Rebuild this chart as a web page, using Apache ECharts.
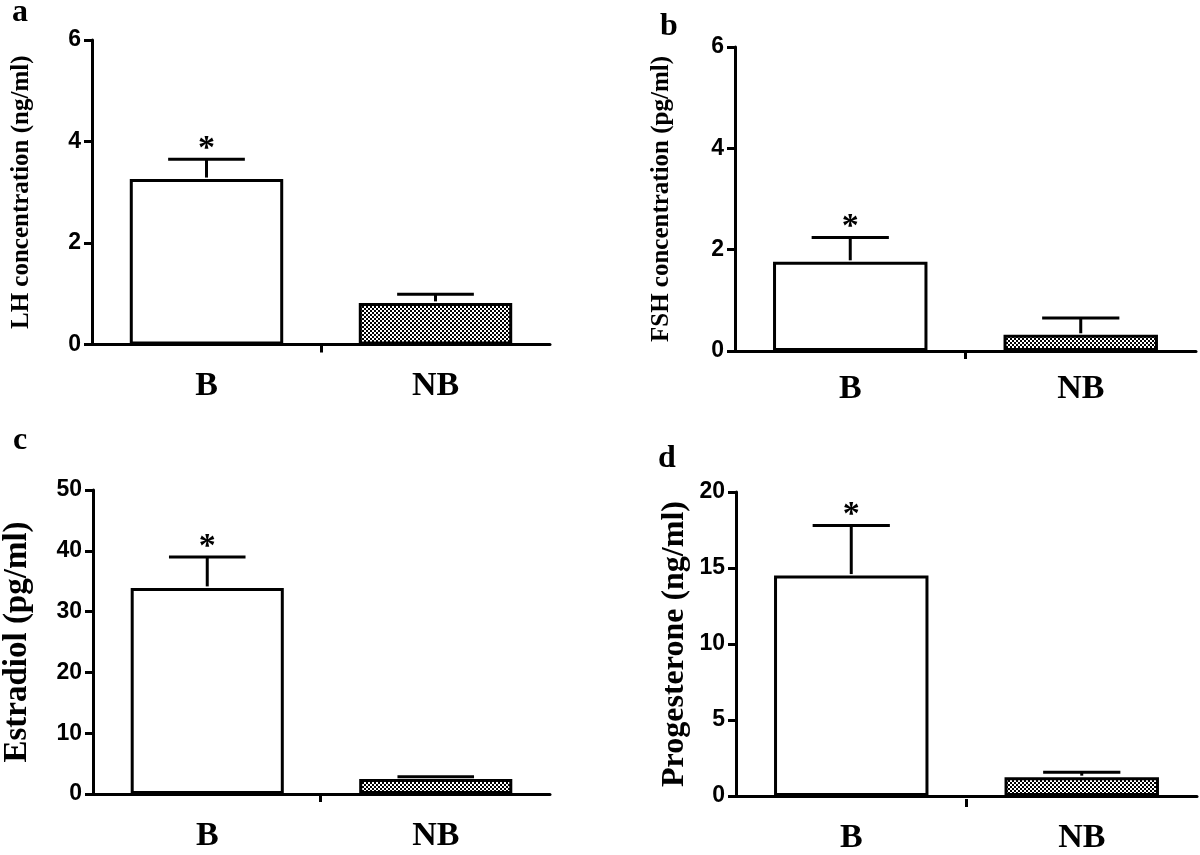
<!DOCTYPE html>
<html><head><meta charset="utf-8">
<script src="https://cdn.jsdelivr.net/npm/echarts@6/dist/echarts.min.js"></script>
<style>html,body{margin:0;padding:0;background:#fff}#c{width:1200px;height:855px}</style>
</head><body><div id="c"></div>
<script>
// ---- data ----
const categories = ['B', 'NB'];
const lhMean = [3.26, 0.82];
const lhSem = [0.39, 0.17];
const fshMean = [1.76, 0.32];
const fshSem = [0.48, 0.33];
const e2Mean = [33.9, 2.47];
const e2Sem = [5.1, 0.38];
const p4Mean = [14.5, 1.24];
const p4Sem = [3.3, 0.32];
const significance = ['*', ''];
const panelLetters = ['a', 'b', 'c', 'd'];
const yTitles = ['LH concentration (ng/ml)', 'FSH concentration (pg/ml)', 'Estradiol (pg/ml)', 'Progesterone (ng/ml)'];
const yMax = [6, 6, 50, 20];
const yInterval = [2, 2, 10, 5];

const means = [lhMean, fshMean, e2Mean, p4Mean];
const sems = [lhSem, fshSem, e2Sem, p4Sem];

// ---- layout ----
const grids = [
  {left: 92, top: 40, width: 458, height: 304.5},
  {left: 735, top: 47, width: 461, height: 304},
  {left: 90, top: 490, width: 460, height: 304},
  {left: 736, top: 492, width: 461, height: 307}
];
const titleSize = [25, 25, 33, 32];
const titleGap = [58, 61, 59, 45];
const letterPos = [[12, 13], [660, 27], [13, 441], [658, 459]];
const labelMargin = [25, 21, 25, 25];

// checkered pattern
const pc = document.createElement('canvas');
pc.width = 4; pc.height = 4;
const pctx = pc.getContext('2d');
pctx.fillStyle = '#fff'; pctx.fillRect(0, 0, 4, 4);
pctx.fillStyle = '#000';
pctx.fillRect(0, 0, 2, 2); pctx.fillRect(2, 2, 2, 2);
const checker = {image: pc, repeat: 'repeat'};

const BAR_FRAC = 0.67;
const LW = 3;

const option = {
  animation: false,
  backgroundColor: '#fff',
  grid: [], xAxis: [], yAxis: [], series: [], graphic: []
};

for (let p = 0; p < 4; p++) {
  const g = grids[p];
  option.grid.push(Object.assign({containLabel: false}, g));
  option.grid.push(Object.assign({containLabel: false}, g));
  const gi = p * 2;
  option.xAxis.push({
    type: 'category', gridIndex: gi, data: categories, boundaryGap: true,
    axisLine: {lineStyle: {color: '#000', width: LW}},
    axisTick: {show: false},
    axisLabel: {color: '#000', fontFamily: 'Liberation Serif', fontWeight: 'bold', fontSize: 34, margin: labelMargin[p]}
  });
  option.xAxis.push({
    type: 'category', gridIndex: gi + 1, data: ['', '', ''], boundaryGap: false,
    axisLine: {show: false}, axisLabel: {show: false},
    axisTick: {show: true, length: 8, interval: function (idx) { return idx === 1; }, lineStyle: {color: '#000', width: LW}}
  });
  option.yAxis.push({
    type: 'value', gridIndex: gi, min: 0, max: yMax[p], interval: yInterval[p],
    name: yTitles[p], nameLocation: 'middle', nameGap: titleGap[p],
    nameTextStyle: {color: '#000', fontFamily: 'Liberation Serif', fontWeight: 'bold', fontSize: titleSize[p]},
    axisLine: {show: true, lineStyle: {color: '#000', width: LW}},
    axisTick: {show: true, length: 8, lineStyle: {color: '#000', width: LW}},
    axisLabel: {color: '#000', fontFamily: 'Liberation Sans', fontWeight: 'bold', fontSize: 23, margin: 11},
    splitLine: {show: false}
  });
  option.yAxis.push({type: 'value', gridIndex: gi + 1, min: 0, max: yMax[p], show: false});

  const m = means[p], s = sems[p];
  option.series.push({
    type: 'bar', xAxisIndex: gi, yAxisIndex: gi,
    barWidth: (BAR_FRAC * 100) + '%',
    data: m.map((v, i) => ({
      value: v,
      itemStyle: {color: i === 0 ? '#fff' : checker, borderColor: '#000', borderWidth: LW}
    })),
    z: 2
  });
  option.series.push({
    type: 'custom', xAxisIndex: gi, yAxisIndex: gi, z: 3,
    data: m.map((v, i) => [i, v, s[i]]),
    renderItem: function (params, api) {
      const i = api.value(0), mv = api.value(1), sv = api.value(2);
      const base = api.coord([i, mv]);
      const top = api.coord([i, mv + sv]);
      const band = api.size([1, 0])[0];
      const half = band * BAR_FRAC / 4;
      const ch = [
        {type: 'line', shape: {x1: base[0], y1: base[1] - LW / 2, x2: top[0], y2: top[1]}, style: {stroke: '#000', lineWidth: LW}},
        {type: 'line', shape: {x1: top[0] - half, y1: top[1], x2: top[0] + half, y2: top[1]}, style: {stroke: '#000', lineWidth: LW}}
      ];
      if (significance[i]) {
        ch.push({type: 'text', x: top[0], y: top[1] - 10,
          style: {text: significance[i], fill: '#000', font: 'bold 34px "Liberation Serif"', align: 'center', verticalAlign: 'middle'}});
      }
      return {type: 'group', children: ch};
    }
  });
  option.graphic.push({
    type: 'text', left: letterPos[p][0], top: letterPos[p][1] - 16,
    style: {text: panelLetters[p], fill: '#000', font: 'bold 32px "Liberation Serif"'}
  });
}

const chart = echarts.init(document.getElementById('c'), null, {renderer: 'canvas'});
chart.setOption(option);
</script>
</body></html>
